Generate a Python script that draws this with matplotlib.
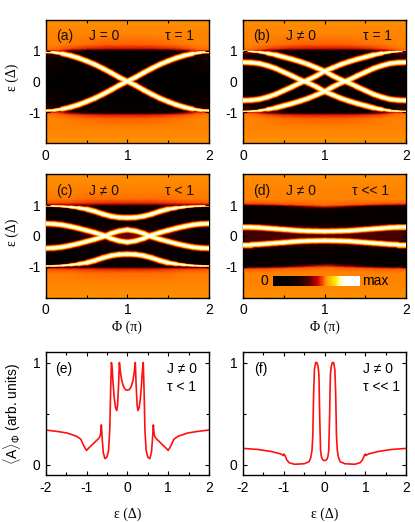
import numpy as np
import matplotlib
matplotlib.use("Agg")
import matplotlib.pyplot as plt
from matplotlib.collections import LineCollection
from matplotlib.colors import LinearSegmentedColormap
from matplotlib.ticker import MultipleLocator

plt.rcParams['font.family'] = ['Liberation Sans', 'DejaVu Sans']
plt.rcParams['mathtext.fontset'] = 'custom'
plt.rcParams['mathtext.rm'] = 'Liberation Sans'
plt.rcParams['mathtext.it'] = 'Liberation Sans:italic'
plt.rcParams['mathtext.fallback'] = 'cm'
plt.rcParams['axes.unicode_minus'] = False

W, H = 415, 522
# ---------- data ----------
phi_half = [0, .1, .2, .3, .4, .5, .6, .7, .8, .9, 1.0]
band_a = [.95, .94, .90, .84, .76, .66, .55, .42, .28, .13, .0]
band_c_outer = [.98, .97, .96, .94, .91, .87, .80, .71, .64, .60, .59]
band_c_inner = [.40, .39, .36, .31, .25, .18, .11, .03, -.08, -.16, -.20]
band_d = [.28, .28, .27, .25, .23, .21, .19, .17, .16, .155, .15]

phi_full = [0, .1, .2, .3, .4, .5, .6, .7, .8, .9, 1.0, 1.1, 1.2, 1.3, 1.4, 1.5, 1.6, 1.7, 1.8, 1.9, 2.0]
band_b = [.98, .97, .95, .91, .86, .79, .72, .64, .55, .44, .33, .18, .05, -.05, -.18, -.30, -.42, -.51, -.58, -.61, -.62]

# background heat: rows in |eps|, columns in phi (0..1, mirrored)
bg_phi = [0, .15, .3, .5, .75, 1.0]
bg_eps = [0, .2, .4, .7, .9, .97, 1.0, 1.03, 1.08, 1.2, 1.5, 2.0]
bg_ab = [[.02, .02, .02, .02, .02, .04],
         [.04, .03, .02, .02, .03, .05],
         [.08, .05, .03, .03, .03, .04],
         [.12, .06, .04, .03, .03, .03],
         [.25, .12, .07, .05, .04, .04],
         [.45, .38, .12, .07, .06, .06],
         [.54, .52, .28, .14, .12, .12],
         [.57, .56, .44, .30, .26, .26],
         [.59, .58, .55, .50, .47, .47],
         [.60, .60, .59, .58, .57, .57],
         [.60, .60, .60, .60, .60, .60],
         [.61, .61, .61, .61, .61, .61]]
bg_c = [[.05, .06, .10, .20, .30, .35],
        [.05, .05, .06, .10, .15, .18],
        [.05, .05, .05, .05, .05, .05],
        [.04, .04, .04, .04, .04, .04],
        [.05, .05, .05, .05, .05, .05],
        [.07, .07, .07, .07, .07, .07],
        [.14, .14, .14, .14, .14, .14],
        [.45, .44, .42, .40, .38, .38],
        [.56, .55, .54, .52, .50, .50],
        [.59, .59, .59, .58, .58, .58],
        [.60, .60, .60, .60, .60, .60],
        [.61, .61, .61, .61, .61, .61]]
bg_d = [[.28, .28, .28, .28, .28, .28],
        [.22, .22, .22, .22, .22, .22],
        [.06, .06, .06, .06, .06, .06],
        [.03, .03, .03, .03, .03, .03],
        [.04, .04, .04, .05, .09, .16],
        [.06, .06, .07, .12, .35, .50],
        [.20, .20, .26, .40, .52, .56],
        [.48, .48, .50, .54, .57, .58],
        [.57, .57, .57, .58, .58, .59],
        [.60, .60, .60, .60, .60, .60],
        [.60, .60, .60, .60, .60, .60],
        [.61, .61, .61, .61, .61, .61]]

eps_e = [0, .05, .1, .14, .17, .195, .215, .24, .26, .29, .32, .35, .37, .39, .41, .43, .46, .5, .55,
         .59, .61, .637, .655, .68, .72, .775, .85, .93, 1.0, 1.06, 1.14, 1.25, 1.47, 1.7, 2.0]
val_e = [.73, .735, .77, .83, .91, 1.0, .78, .58, .53, .56, .65, .80, .93, 1.0, .72, .35, .14, .075, .06,
         .12, .22, .39, .30, .27, .25, .23, .20, .17, .14, .18, .25, .28, .31, .325, .34]
eps_f = [0, .05, .08, .1, .12, .14, .16, .19, .22, .25, .27, .29, .31, .34, .38, .5, .74, .87, .93, .97, 1.0, 1.01, 1.07, 1.31, 1.64, 2.0]
val_f = [.04, .05, .08, .14, .45, .88, .96, 1.0, 1.0, .93, .70, .28, .14, .07, .03, .01, .005, .02, .05, .09, .105, .09, .105, .13, .15, .16]

cb_levels = [0.0, .06, .14, .26, .42, .62, .76, 1.0, 1.0]
cmap_pos = [0, .16, .30, .44, .56, .62, .76, .86, 1]
cmap_col = ['#000000', '#1a0000', '#550000', '#cc0000', '#ff5500', '#ff9900', '#ffee00', '#ffffaa', '#ffffff']

labels = ['(a)', '(b)', '(c)', '(d)', '(e)', '(f)']
J_text = ['J = 0', 'J ≠ 0', 'J ≠ 0', 'J ≠ 0']
tau_text = ['τ = 1', 'τ = 1', 'τ < 1', 'τ << 1']

# ---------- helpers ----------
cmap = LinearSegmentedColormap.from_list('hot2', list(zip(cmap_pos, cmap_col)))
FS = 10
SERIF = ['Liberation Serif', 'DejaVu Serif']

def make_ax(x0, y0, x1, y1):
    return fig.add_axes([x0 / W, 1 - y1 / H, (x1 - x0) / W, (y1 - y0) / H])

def style(ax):
    ax.tick_params(which='both', direction='in', top=True, right=True, labelsize=FS, width=0.8, pad=4)
    ax.tick_params(which='major', length=3)
    ax.tick_params(which='minor', length=2.2)
    for s in ax.spines.values():
        s.set_linewidth(1.0)

def mirror_xy(x, y):
    x = np.asarray(x); y = np.asarray(y)
    return np.r_[x, 2 - x[-2::-1]], np.r_[y, y[-2::-1]]

def glow(x, y):
    x = np.asarray(x, float); y = np.asarray(y, float)
    pts = np.column_stack([x, y])
    segs = np.stack([pts[:-1], pts[1:]], axis=1)
    mid = np.abs(y[:-1] + y[1:]) / 2
    w = np.clip((1.02 - mid) / 0.16, .3, 1)
    return segs, w

LAYERS = [(7.0, 0.42), (5.6, 0.54), (4.6, 0.66), (3.6, 0.78), (2.4, 1.0)]

def heat(ax, bg, bands):
    gx = np.r_[bg_phi, 2 - np.array(bg_phi)[-2::-1]]
    ge = np.r_[-np.array(bg_eps)[:0:-1], bg_eps]
    B = np.array(bg)
    Z = np.vstack([B[:0:-1], B])
    Z = np.hstack([Z, Z[:, -2::-1]])
    ax.pcolormesh(gx, ge, Z, cmap=cmap, vmin=0, vmax=1, shading='gouraud', rasterized=True)
    for lw, lev in LAYERS:
        for x, y in bands:
            segs, w = glow(x, y)
            ax.add_collection(LineCollection(segs, colors=[cmap(lev)], linewidths=lw * 0.72 * w, capstyle='round', zorder=3))
    ax.set_xlim(0, 2); ax.set_ylim(-2, 2)
    ax.xaxis.set_major_locator(MultipleLocator(1))
    ax.xaxis.set_minor_locator(MultipleLocator(.5))
    ax.set_yticks([-1, 0, 1])
    ax.set_axisbelow(False)
    for a in (ax.xaxis, ax.yaxis):
        a.set_zorder(5)
    style(ax)

fig = plt.figure(figsize=(W / 100, H / 100), dpi=100)
boxes = [(45.7, 19.7, 209, 143), (243, 19.7, 406.3, 143),
         (45.7, 174.3, 209, 297.6), (243, 174.3, 406.3, 297.6),
         (45.7, 352.3, 209, 475), (243, 352.3, 406.3, 475)]
axs = [make_ax(*b) for b in boxes]

xa, ya = mirror_xy(phi_half, band_a)
heat(axs[0], bg_ab, [(xa, ya), (xa, -ya)])

xb = np.array(phi_full); yb = np.array(band_b)
heat(axs[1], bg_ab, [(xb, yb), (xb, -yb), (2 - xb, yb), (2 - xb, -yb)])

xo, yo = mirror_xy(phi_half, band_c_outer)
xi, yi = mirror_xy(phi_half, band_c_inner)
heat(axs[2], bg_c, [(xo, yo), (xo, -yo), (xi, yi), (xi, -yi)])

xd, yd = mirror_xy(phi_half, band_d)
heat(axs[3], bg_d, [(xd, yd), (xd, -yd)])

# text in heat panels
tau_right = [15.5, 14.6, 15, 17]
for i, ax in enumerate(axs[:4]):
    bx = boxes[i]
    def put(px, s, ha='left'):
        ax.text((px - bx[0]) / (bx[2] - bx[0]), .865, s, transform=ax.transAxes, ha=ha, va='center', fontsize=FS, zorder=6, color='#111111')
    put(bx[0] + 10.5, labels[i])
    put(bx[0] + 43, J_text[i])
    put(bx[2] - tau_right[i], tau_text[i], ha='right')

for ax in (axs[0], axs[2]):
    ax.set_ylabel('ε (Δ)', fontsize=FS, family=SERIF, va='center')
    ax.yaxis.set_label_coords(-.206, .53)
for ax in (axs[2], axs[3]):
    ax.set_xlabel('Φ (π)', fontsize=FS, family=SERIF, va='center')
    ax.xaxis.set_label_coords(.5, -.238)

# colour bar drawn inside panel d
bx = (272.7, 275.7, 359.3, 286.3)
cax = make_ax(*bx)
cax.imshow(np.array(cb_levels)[None, :], cmap=cmap, vmin=0, vmax=1, aspect='auto', interpolation='bilinear')
cax.set_xticks([]); cax.set_yticks([])
for s in cax.spines.values():
    s.set_visible(False)
axs[3].text((264.5 - 243) / 163.3, (297.6 - 281) / 123.3, '0', transform=axs[3].transAxes, ha='center', va='center', fontsize=FS, zorder=6)
axs[3].text((362.5 - 243) / 163.3, (297.6 - 281) / 123.3, 'max', transform=axs[3].transAxes, ha='left', va='center', fontsize=FS, zorder=6)

# line panels
for ax, ex, vx in ((axs[4], eps_e, val_e), (axs[5], eps_f, val_f)):
    ex = np.array(ex); vx = np.array(vx)
    ax.plot(np.r_[-ex[:0:-1], ex], np.r_[vx[:0:-1], vx], color='#ff1010', lw=1.2, solid_joinstyle='round')
    ax.set_xlim(-2, 2); ax.set_ylim(-.1, 1.1)
    ax.xaxis.set_major_locator(MultipleLocator(1))
    ax.xaxis.set_minor_locator(MultipleLocator(.5))
    ax.set_yticks([0, 1])
    ax.yaxis.set_minor_locator(MultipleLocator(.5))
    style(ax)
    ax.set_xlabel('ε (Δ)', fontsize=FS, family=SERIF, va='center')
    ax.xaxis.set_label_coords(.5, -.318)

axs[4].set_ylabel(r'$\langle\mathrm{A}\rangle_{\Phi}$ (arb. units)', fontsize=FS, va='center')
axs[4].yaxis.set_label_coords(-.206, .5)
for ax, lab, lx, tx in ((axs[4], labels[4], .057, .743), (axs[5], labels[5], .07, .735)):
    ax.text(lx, .861, lab, transform=ax.transAxes, va='center', fontsize=FS)
    ax.text(tx, .861, 'J ≠ 0', transform=ax.transAxes, va='center', fontsize=FS)
    ax.text(tx, .72, 'τ < 1' if lab == '(e)' else 'τ << 1', transform=ax.transAxes, va='center', fontsize=FS)

fig.savefig('out.png', dpi=100)
